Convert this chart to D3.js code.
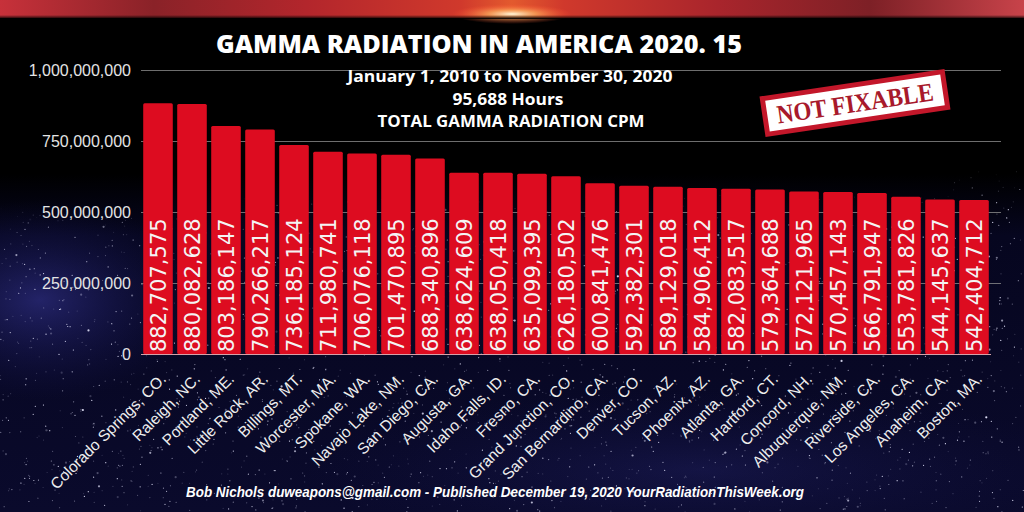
<!DOCTYPE html>
<html>
<head>
<meta charset="utf-8">
<script src="https://cdn.jsdelivr.net/npm/d3@7"></script>
<style>
  html, body { margin: 0; padding: 0; background: #000; }
  svg { display: block; }
</style>
</head>
<body>
<svg id="chart" width="1024" height="512"></svg>
<script>
// ---- data ----
const cities = [
  "Colorado Springs, CO.", "Raleigh, NC.", "Portland, ME.", "Little Rock, AR.",
  "Billings, MT.", "Worcester, MA.", "Spokane, WA.", "Navajo Lake, NM.",
  "San Diego, CA.", "Augusta, GA.", "Idaho Falls, ID.", "Fresno, CA.",
  "Grand Junction, CO.", "San Bernardino, CA.", "Denver, CO.", "Tucson, AZ.",
  "Phoenix, AZ.", "Atlanta, GA.", "Hartford, CT.", "Concord, NH.",
  "Albuquerque, NM.", "Riverside, CA.", "Los Angeles, CA.", "Anaheim, CA.",
  "Boston, MA."
];
const totalCPM = [
  882707575, 880082628, 803186147, 790266217,
  736185124, 711980741, 706076118, 701470895,
  688340896, 638624609, 638050418, 635099395,
  626180502, 600841476, 592382301, 589129018,
  584906412, 582083517, 579364688, 572121965,
  570457143, 566791947, 553781826, 544145637,
  542404712
];
const yTickValues = [0, 250000000, 500000000, 750000000, 1000000000];
const titleText = "GAMMA RADIATION IN AMERICA 2020. 15";
const subtitleLines = ["January 1, 2010 to November 30, 2020", "95,688 Hours", "TOTAL GAMMA RADIATION CPM"];
const stampText = "NOT FIXABLE";
const footerText = "Bob Nichols duweapons@gmail.com - Published December 19, 2020  YourRadiationThisWeek.org";

// ---- setup ----
const W = 1024, H = 512;
const svg = d3.select("#chart");
const defs = svg.append("defs");

// background gradients
const bgGrad = defs.append("linearGradient").attr("id", "bg").attr("x1", 0).attr("y1", 0).attr("x2", 0).attr("y2", 1);
bgGrad.append("stop").attr("offset", "0").attr("stop-color", "#000000");
bgGrad.append("stop").attr("offset", "0.34").attr("stop-color", "#000000");
bgGrad.append("stop").attr("offset", "0.46").attr("stop-color", "#06061f");
bgGrad.append("stop").attr("offset", "1").attr("stop-color", "#0a0a2c");

const topGrad = defs.append("linearGradient").attr("id", "topband").attr("x1", 0).attr("y1", 0).attr("x2", 1).attr("y2", 0);
[["0", "#c7313a"], ["0.15", "#8a2228"], ["0.3", "#b3262c"], ["0.45", "#d0392c"], ["0.5", "#e35a2e"],
 ["0.55", "#d0392c"], ["0.7", "#a9252c"], ["0.85", "#7d2026"], ["1", "#c8434a"]]
  .forEach(([o, c]) => topGrad.append("stop").attr("offset", o).attr("stop-color", c));

const glow = defs.append("radialGradient").attr("id", "glow");
glow.append("stop").attr("offset", "0").attr("stop-color", "#fff6d8").attr("stop-opacity", 1);
glow.append("stop").attr("offset", "0.4").attr("stop-color", "#ffb060").attr("stop-opacity", 0.7);
glow.append("stop").attr("offset", "1").attr("stop-color", "#ff5030").attr("stop-opacity", 0);

const neb = defs.append("radialGradient").attr("id", "neb");
neb.append("stop").attr("offset", "0").attr("stop-color", "#3a3aa0").attr("stop-opacity", 0.55);
neb.append("stop").attr("offset", "1").attr("stop-color", "#1a1a60").attr("stop-opacity", 0);

const fadeTop = defs.append("linearGradient").attr("id", "fadeTop").attr("x1", 0).attr("y1", 0).attr("x2", 0).attr("y2", 1);
fadeTop.append("stop").attr("offset", "0").attr("stop-color", "#000").attr("stop-opacity", 0.0);
fadeTop.append("stop").attr("offset", "1").attr("stop-color", "#000").attr("stop-opacity", 1);

svg.append("rect").attr("width", W).attr("height", H).attr("fill", "url(#bg)");
svg.append("ellipse").attr("cx", 40).attr("cy", 300).attr("rx", 160).attr("ry", 100).attr("fill", "url(#neb)");
svg.append("ellipse").attr("cx", 700).attr("cy", 470).attr("rx", 400).attr("ry", 80).attr("fill", "url(#neb)").attr("opacity", 0.4);

// decorative star field (deterministic)
let seed = 12345;
function rnd() { seed = (seed * 1103515245 + 12345) % 2147483648; return seed / 2147483648; }
const stars = [];
for (let i = 0; i < 2600; i++) {
  const x = rnd() * W, y = 170 + rnd() * (H - 170);
  const a = rnd(), r = rnd();
  const edge = x > 950 ? 165 : (x < 140 ? 205 : 190);
  const fade = Math.min(1, Math.max(0, (y - edge) / 40));
  stars.push({ x, y, o: (0.2 + 0.8 * a * a) * fade, r: r > 0.95 ? 1.1 : 0.6 });
}
svg.append("g").selectAll("circle").data(stars).join("circle")
  .attr("cx", d => d.x).attr("cy", d => d.y).attr("r", d => d.r)
  .attr("fill", "#e8e8ff").attr("opacity", d => d.o);

// top fiery band
svg.append("rect").attr("x", 0).attr("y", 0).attr("width", W).attr("height", 18).attr("fill", "url(#topband)");
svg.append("ellipse").attr("cx", 512).attr("cy", 14).attr("rx", 60).attr("ry", 10).attr("fill", "url(#glow)");
svg.append("rect").attr("x", 0).attr("y", 15).attr("width", W).attr("height", 4).attr("fill", "url(#fadeTop)");

// ---- scales ----
const x = d3.scaleBand().domain(cities).range([141, 991]).paddingInner(0.13).paddingOuter(0.065);
const y = d3.scaleLinear().domain([0, 1000000000]).range([354, 70]);

// grid lines
svg.append("g").selectAll("line").data(yTickValues.filter(v => v > 0)).join("line")
  .attr("x1", 141).attr("x2", 1001)
  .attr("y1", d => Math.round(y(d)) + 0.5).attr("y2", d => Math.round(y(d)) + 0.5)
  .attr("stroke", "#8a8a8a").attr("stroke-width", 1).attr("opacity", 0.8);

// y axis
const yAxis = d3.axisLeft(y).tickValues(yTickValues).tickFormat(d3.format(",")).tickSize(0).tickPadding(0);
const yg = svg.append("g").attr("transform", "translate(131,0)").call(yAxis);
yg.select(".domain").remove();
yg.selectAll("text").attr("fill", "#e4e4e4").style("font-family", "'Liberation Sans', Arial, sans-serif")
  .style("font-size", "16px").attr("dy", "0.36em");

// bars
svg.append("g").selectAll("rect").data(cities).join("rect")
  .attr("x", d => x(d)).attr("width", x.bandwidth())
  .attr("y", (d, i) => y(totalCPM[i])).attr("height", (d, i) => y(0) - y(totalCPM[i]))
  .attr("fill", "#dd0c20").attr("rx", 1.5);

// baseline
svg.append("line").attr("x1", 141).attr("x2", 991).attr("y1", 354.5).attr("y2", 354.5)
  .attr("stroke", "#d8a0a8").attr("stroke-width", 1);

// bar value labels
svg.append("g").selectAll("text").data(cities).join("text")
  .attr("transform", (d, i) => `translate(${x(d) + x.bandwidth() / 2 + 7.5},352) rotate(-90)`)
  .attr("text-anchor", "start")
  .attr("fill", "#f4f4f4")
  .style("font-family", "'DejaVu Sans', sans-serif").style("font-size", "21px")
  .text((d, i) => d3.format(",")(totalCPM[i]));

// x axis labels
const xAxis = d3.axisBottom(x).tickSize(0).tickPadding(0);
const xg = svg.append("g").attr("transform", "translate(0,354)").call(xAxis);
xg.select(".domain").remove();
xg.selectAll("text")
  .attr("fill", "#eeeeee").attr("y", 0).attr("dy", 0)
  .attr("text-anchor", "end")
  .attr("transform", "translate(9,26) rotate(-45)")
  .style("font-family", "'Liberation Sans', Arial, sans-serif").style("font-size", "15.5px");

// title
svg.append("text").attr("x", 479).attr("y", 53).attr("text-anchor", "middle")
  .attr("fill", "#ffffff").style("font-family", "'Open Sans', sans-serif").style("font-weight", 800)
  .style("font-size", "24px").attr("textLength", 526).attr("lengthAdjust", "spacingAndGlyphs")
  .text(titleText);

// subtitle
const subX = [510, 508, 511], subY = [82, 105, 127], subW = [325, 111, 267];
svg.append("g").selectAll("text").data(subtitleLines).join("text")
  .attr("x", (d, i) => subX[i]).attr("y", (d, i) => subY[i]).attr("text-anchor", "middle")
  .attr("fill", "#ffffff").style("font-family", "'Open Sans', sans-serif").style("font-weight", 700)
  .style("font-size", "16px").attr("textLength", (d, i) => subW[i]).attr("lengthAdjust", "spacingAndGlyphs")
  .text(d => d);

// stamp
const stamp = svg.append("g").attr("transform", "translate(855,103) rotate(-8.5)");
stamp.append("rect").attr("x", -91).attr("y", -18).attr("width", 182).attr("height", 36)
  .attr("fill", "#ffffff").attr("stroke", "#c3172a").attr("stroke-width", 5);
stamp.append("text").attr("x", 0).attr("y", 9).attr("text-anchor", "middle")
  .attr("fill", "#a8192b").style("font-family", "'Liberation Serif', 'DejaVu Serif', serif").style("font-weight", 700)
  .style("font-size", "26px").attr("textLength", 158).attr("lengthAdjust", "spacingAndGlyphs")
  .text(stampText);

// footer
svg.append("text").attr("x", 495).attr("y", 497).attr("text-anchor", "middle")
  .attr("fill", "#ffffff").style("font-family", "'Liberation Sans', Arial, sans-serif")
  .style("font-style", "italic").style("font-weight", 700).style("font-size", "14px")
  .attr("textLength", 618).attr("lengthAdjust", "spacingAndGlyphs")
  .text(footerText);
</script>
</body>
</html>
